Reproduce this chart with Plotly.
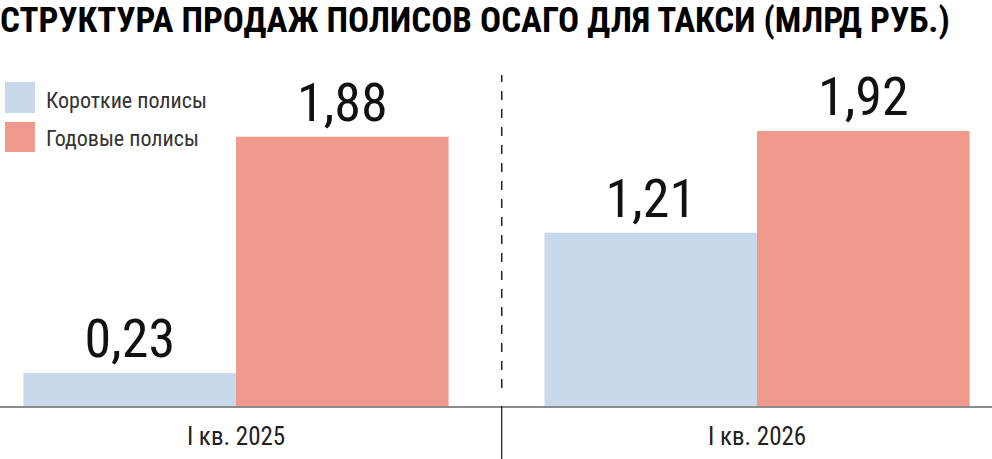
import plotly.graph_objects as go

categories = ["I кв. 2025", "I кв. 2026"]
short_policies = [0.23, 1.21]
annual_policies = [1.88, 1.92]
series_names = ["Короткие полисы", "Годовые полисы"]
title_text = "СТРУКТУРА ПРОДАЖ ПОЛИСОВ ОСАГО ДЛЯ ТАКСИ (МЛРД РУБ.)"

BLUE = "#C8D9EB"
RED = "#F0998D"
NARROW = "Roboto Condensed, Roboto, Liberation Sans, sans-serif"

W, H = 992, 459
T, B = 45, 53
PH = H - T - B


def fmt(v):
    return f"{v:.2f}".replace(".", ",")


fig = go.Figure()
for name, vals, col in [(series_names[0], short_policies, BLUE),
                        (series_names[1], annual_policies, RED)]:
    fig.add_trace(go.Bar(
        x=categories, y=vals, name=name, marker=dict(color=col, line=dict(width=0)),
        text=[fmt(v) for v in vals], textposition="outside",
        textfont=dict(family=NARROW, size=54, color="#111"),
        constraintext="none", cliponaxis=False, showlegend=False,
        hoverinfo="skip",
    ))

def py(ypx):
    return (H - B - ypx) / PH

shapes = [
    dict(type="line", xref="x", yref="paper", x0=0.51, x1=0.51, y0=py(388), y1=py(75),
         line=dict(color="#222", width=1.5, dash="dash")),
    dict(type="line", xref="x", yref="paper", x0=0.51, x1=0.51, y0=0, y1=-B / PH,
         line=dict(color="#111", width=1.2)),
    dict(type="rect", xref="paper", yref="paper", x0=5 / W, x1=35 / W, y0=py(113), y1=py(82),
         fillcolor=BLUE, line=dict(width=0)),
    dict(type="rect", xref="paper", yref="paper", x0=5 / W, x1=35 / W, y0=py(152), y1=py(122),
         fillcolor=RED, line=dict(width=0)),
]

annotations = [
    dict(xref="paper", yref="paper", x=44 / W, y=py(101), xanchor="left", yanchor="middle",
         text=series_names[0], showarrow=False, font=dict(family=NARROW, size=22, color="#333")),
    dict(xref="paper", yref="paper", x=44 / W, y=py(138), xanchor="left", yanchor="middle",
         text=series_names[1], showarrow=False, font=dict(family=NARROW, size=22, color="#333")),
]

fig.update_layout(
    width=W, height=H,
    margin=dict(l=0, r=0, t=T, b=B, pad=0, autoexpand=False),
    paper_bgcolor="white", plot_bgcolor="white",
    barmode="group", bargap=0.184, bargroupgap=0,
    title=dict(text="<b>" + title_text + "</b>", x=0.0, xanchor="left",
               y=1 - 20 / H, yanchor="middle", yref="container",
               font=dict(family=NARROW, size=35, color="#000", weight=900)),
    shapes=shapes, annotations=annotations,
    xaxis=dict(range=[-0.453, 1.451], showgrid=False, showline=True, linecolor="#8c8c8c",
               linewidth=2, ticks="", tickfont=dict(family=NARROW, size=25, color="#222"),
               ticklabelstandoff=7, zeroline=False, fixedrange=True, automargin=False),
    yaxis=dict(range=[0, PH / 143.2], visible=False, showgrid=False, zeroline=False,
               automargin=False),
)

fig.write_html("out.html", config={"displayModeBar": False},
               post_script="document.body.style.margin='0';document.body.style.overflow='hidden';")
